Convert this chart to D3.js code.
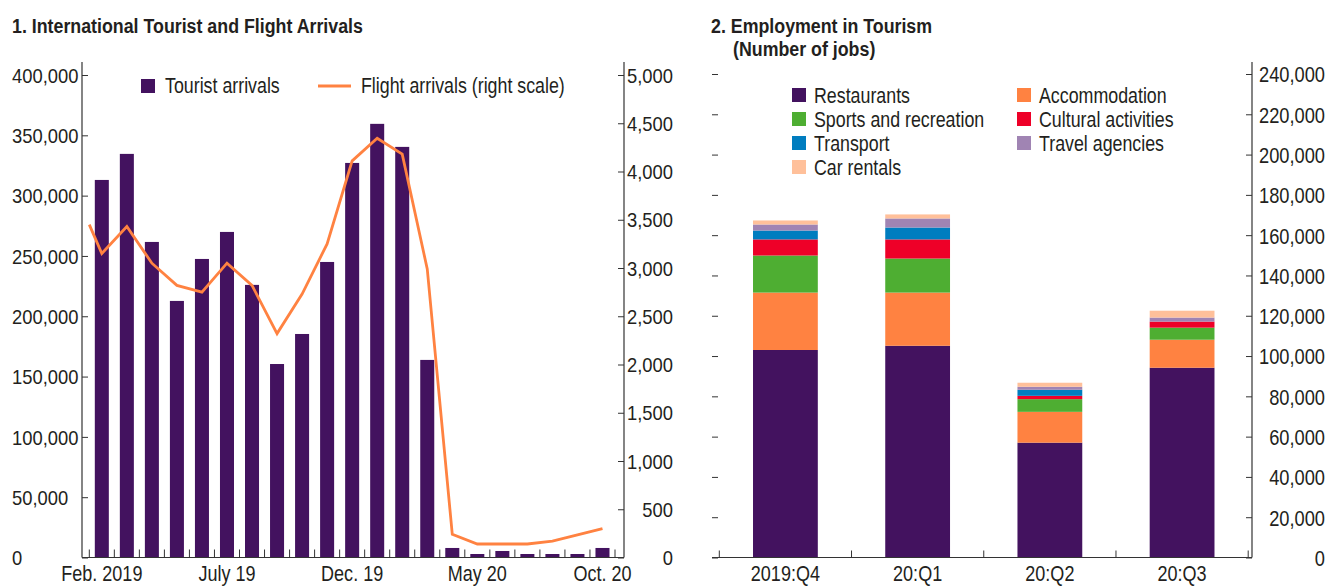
<!DOCTYPE html>
<html>
<head>
<meta charset="utf-8">
<script src="https://cdn.jsdelivr.net/npm/d3@7/dist/d3.min.js"></script>
<style>
  html, body { margin: 0; padding: 0; background: #fff; }
  svg { display: block; }
  text { font-family: "Liberation Sans", Arial, sans-serif; fill: #231f20; }
</style>
</head>
<body>
<svg id="chart" width="1328" height="586"></svg>
<script>
// ---------------- Data ----------------
const months = ["Feb. 2019","Mar. 19","Apr. 19","May 19","June 19","July 19","Aug. 19","Sep. 19","Oct. 19","Nov. 19",
  "Dec. 19","Jan. 20","Feb. 20","Mar. 20","Apr. 20","May 20","June 20","July 20","Aug. 20","Sep. 20","Oct. 20"];
const monthTickLabels = ["Feb. 2019","July 19","Dec. 19","May 20","Oct. 20"];
const touristArrivals = [313000, 334600, 261600, 212700, 247500, 269900, 226000, 160400, 185300, 245000,
  327100, 359500, 340400, 163800, 7900, 2900, 5400, 2900, 2900, 2900, 7900];
const flightArrivalsJan2019 = 3450;   // value entering at the left edge of the panel
const flightArrivals = [3150, 3430, 3050, 2820, 2750, 3050, 2820, 2320, 2730, 3250,
  4110, 4345, 4180, 2990, 240, 140, 140, 140, 170, 235, 300];
const leftTicks = [0, 50000, 100000, 150000, 200000, 250000, 300000, 350000, 400000];
const rightTicks1 = [0, 500, 1000, 1500, 2000, 2500, 3000, 3500, 4000, 4500, 5000];

const quarters = ["2019:Q4", "20:Q1", "20:Q2", "20:Q3"];
const sectors = ["Restaurants", "Accommodation", "Sports and recreation", "Cultural activities",
  "Transport", "Travel agencies", "Car rentals"];
const restaurants   = [103000, 105100, 57000, 94200];
const accommodation = [28500, 26400, 15300, 13900];
const sports        = [18400, 16900, 6300, 6000];
const cultural      = [8000, 9500, 1650, 3000];
const transport     = [4400, 5900, 3000, 0];
const travel        = [3000, 4500, 1500, 2000];
const carRentals    = [2000, 2000, 2000, 3400];
const jobTicks = [0, 20000, 40000, 60000, 80000, 100000, 120000, 140000, 160000, 180000, 200000, 220000, 240000];

// ---------------- Styles ----------------
const purple = "#43125f";
const sectorColors = ["#43125f", "#ff8241", "#4eae32", "#ee0028", "#007dbf", "#a084b3", "#ffc09a"];
const axisColor = "#333";

const svg = d3.select("#chart");
const fmt = d3.format(",");

// condense text horizontally (emulates a narrow typeface)
function condense(sel, k, size) {
  sel.each(function () {
    const t = d3.select(this);
    const x = +(t.attr("x") || 0);
    t.attr("x", x / k).attr("transform", `scale(${k},1)`).attr("font-size", size);
  });
}
function label(parent, x, y, txt, k, size, bold) {
  const t = parent.append("text").attr("x", x).attr("y", y).text(txt);
  if (bold) t.attr("font-weight", "bold");
  condense(t, k, size);
  return t;
}

// ================= Panel 1 =================
const p1 = { axL: 82, axR: 624, top: 62, bottom: 557.5, bandL: 89.3, bandR: 615 };
const x1 = d3.scaleBand().domain(months).range([p1.bandL, p1.bandR]).padding(0);
const y1 = d3.scaleLinear().domain([0, 400000]).range([p1.bottom, 75]);
const y1r = d3.scaleLinear().domain([0, 5000]).range([p1.bottom, 75]);

label(svg, 12, 33, "1. International Tourist and Flight Arrivals", 0.89, 20, true);

// bars
const barW1 = x1.bandwidth() * 0.56;
svg.append("g").selectAll("rect").data(touristArrivals).join("rect")
  .attr("x", (d, i) => x1(months[i]) + (x1.bandwidth() - barW1) / 2)
  .attr("y", d => y1(d))
  .attr("width", barW1)
  .attr("height", d => p1.bottom - y1(d))
  .attr("fill", purple);

// line
const linePts = [[x1.range()[0], y1r(flightArrivalsJan2019)]]
  .concat(flightArrivals.map((d, i) => [x1(months[i]) + x1.bandwidth() / 2, y1r(d)]));
svg.append("path").attr("d", d3.line()(linePts)).attr("fill", "none")
  .attr("stroke", "#ff8241").attr("stroke-width", 2.8).attr("stroke-linejoin", "miter");

// left axis
const gL = svg.append("g").attr("transform", `translate(${p1.axL},0)`)
  .call(d3.axisRight(y1).tickValues(leftTicks).tickSize(6).tickFormat(fmt));
gL.select(".domain").remove();
gL.selectAll(".tick line").attr("stroke", axisColor);
gL.selectAll(".tick text").attr("x", 12 - p1.axL).attr("text-anchor", "start").attr("dy", "0.36em");
condense(gL.selectAll(".tick text"), 0.92, 20);
svg.append("line").attr("x1", p1.axL).attr("x2", p1.axL).attr("y1", p1.top).attr("y2", p1.bottom)
  .attr("stroke", axisColor).attr("stroke-width", 1.2);

// right axis
const gR = svg.append("g").attr("transform", `translate(${p1.axR},0)`)
  .call(d3.axisLeft(y1r).tickValues(rightTicks1).tickSize(6).tickFormat(fmt));
gR.select(".domain").remove();
gR.selectAll(".tick line").attr("stroke", axisColor);
gR.selectAll(".tick text").attr("x", 673 - p1.axR).attr("text-anchor", "end").attr("dy", "0.36em");
condense(gR.selectAll(".tick text"), 0.92, 20);
svg.append("line").attr("x1", p1.axR).attr("x2", p1.axR).attr("y1", p1.top).attr("y2", p1.bottom)
  .attr("stroke", axisColor).attr("stroke-width", 1.2);

// x axis
svg.append("line").attr("x1", p1.axL).attr("x2", p1.axR).attr("y1", p1.bottom).attr("y2", p1.bottom)
  .attr("stroke", axisColor).attr("stroke-width", 1.2);
const bounds1 = months.map(m => x1(m)).concat([x1.range()[1]]);
svg.append("g").selectAll("line").data(bounds1).join("line")
  .attr("x1", d => d).attr("x2", d => d).attr("y1", p1.bottom).attr("y2", p1.bottom - 8)
  .attr("stroke", axisColor);
const xl1 = svg.append("g").selectAll("text").data(monthTickLabels).join("text")
  .attr("x", d => x1(d) + x1.bandwidth() / 2).attr("y", 581).attr("text-anchor", "middle")
  .text(d => d);
condense(xl1, 0.82, 22);

// legend
const lg1 = svg.append("g");
lg1.append("rect").attr("x", 141).attr("y", 79).attr("width", 14).attr("height", 14).attr("fill", purple);
label(lg1, 165, 93, "Tourist arrivals", 0.81, 22);
lg1.append("line").attr("x1", 318).attr("x2", 351).attr("y1", 86).attr("y2", 86)
  .attr("stroke", "#ff8241").attr("stroke-width", 2.8);
label(lg1, 361, 93, "Flight arrivals (right scale)", 0.81, 22);

// ================= Panel 2 =================
const p2 = { axL: 712, axR: 1252, top: 62, bottom: 557.5, bandL: 719.3, bandR: 1248.2 };
const x2 = d3.scaleBand().domain(quarters).range([p2.bandL, p2.bandR]).padding(0);
const y2 = d3.scaleLinear().domain([0, 240000]).range([p2.bottom, 74]);

label(svg, 711, 33, "2. Employment in Tourism", 0.89, 20, true);
label(svg, 733, 56, "(Number of jobs)", 0.89, 20, true);

const seriesArrays = [restaurants, accommodation, sports, cultural, transport, travel, carRentals];
const table = quarters.map((q, i) => {
  const row = { q };
  sectors.forEach((s, k) => { row[s] = seriesArrays[k][i]; });
  return row;
});
const stacked = d3.stack().keys(sectors)(table);
const barW2 = x2.bandwidth() * 0.49;
svg.append("g").selectAll("g").data(stacked).join("g")
  .attr("fill", (d, k) => sectorColors[k])
  .selectAll("rect").data(d => d).join("rect")
  .attr("x", d => x2(d.data.q) + (x2.bandwidth() - barW2) / 2)
  .attr("y", d => y2(d[1]))
  .attr("width", barW2)
  .attr("height", d => y2(d[0]) - y2(d[1]));

// left ticks (no line, no labels)
const gL2 = svg.append("g").attr("transform", `translate(${p2.axL},0)`)
  .call(d3.axisRight(y2).tickValues(jobTicks).tickSize(6).tickFormat(""));
gL2.select(".domain").remove();
gL2.selectAll(".tick line").attr("stroke", axisColor);

// right axis
const gR2 = svg.append("g").attr("transform", `translate(${p2.axR},0)`)
  .call(d3.axisLeft(y2).tickValues(jobTicks).tickSize(6).tickFormat(fmt));
gR2.select(".domain").remove();
gR2.selectAll(".tick line").attr("stroke", axisColor);
gR2.selectAll(".tick text").attr("x", 1325 - p2.axR).attr("text-anchor", "end").attr("dy", "0.36em");
condense(gR2.selectAll(".tick text"), 0.83, 22);
svg.append("line").attr("x1", p2.axR).attr("x2", p2.axR).attr("y1", p2.top).attr("y2", p2.bottom)
  .attr("stroke", axisColor).attr("stroke-width", 1.2);

// x axis
svg.append("line").attr("x1", p2.axL).attr("x2", p2.axR).attr("y1", p2.bottom).attr("y2", p2.bottom)
  .attr("stroke", axisColor).attr("stroke-width", 1.2);
const bounds2 = quarters.map(q => x2(q)).concat([x2.range()[1]]);
svg.append("g").selectAll("line").data(bounds2).join("line")
  .attr("x1", d => d).attr("x2", d => d).attr("y1", p2.bottom).attr("y2", p2.bottom - 7)
  .attr("stroke", axisColor);
const xl2 = svg.append("g").selectAll("text").data(quarters).join("text")
  .attr("x", d => x2(d) + x2.bandwidth() / 2).attr("y", 581).attr("text-anchor", "middle")
  .text(d => d);
condense(xl2, 0.82, 22);

// legend
const legendPos = sectors.map((s, k) => ({ s, k, col: k % 2, row: Math.floor(k / 2) }));
const lg2 = svg.append("g").selectAll("g").data(legendPos).join("g")
  .attr("transform", d => `translate(${d.col ? 1017 : 792},${95 + d.row * 24})`);
lg2.append("rect").attr("x", 0).attr("y", -7).attr("width", 14).attr("height", 14)
  .attr("fill", d => sectorColors[d.k]);
const lt2 = lg2.append("text").attr("x", 22).attr("y", 7.5).text(d => d.s);
condense(lt2, 0.81, 22);
</script>
</body>
</html>
